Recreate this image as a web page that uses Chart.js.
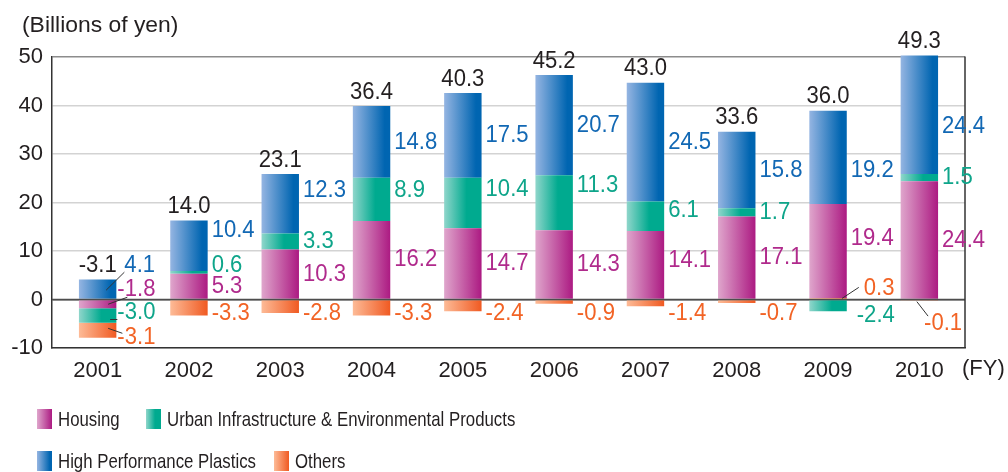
<!DOCTYPE html>
<html>
<head>
<meta charset="utf-8">
<title>Operating income by segment</title>
<script src="https://cdn.jsdelivr.net/npm/chart.js@4.4.1/dist/chart.umd.min.js"></script>
<style>
  html, body { margin: 0; padding: 0; background: #fff; }
  #wrap { width: 1008px; height: 472px; }
</style>
</head>
<body>
<div id="wrap"><canvas id="segmentChart" width="1008" height="472"></canvas></div>
<script>
const years = ['2001', '2002', '2003', '2004', '2005', '2006', '2007', '2008', '2009', '2010'];
const housing = [-1.8, 5.3, 10.3, 16.2, 14.7, 14.3, 14.1, 17.1, 19.4, 24.4];
const urbanInfra = [-3.0, 0.6, 3.3, 8.9, 10.4, 11.3, 6.1, 1.7, -2.4, 1.5];
const plastics = [4.1, 10.4, 12.3, 14.8, 17.5, 20.7, 24.5, 15.8, 19.2, 24.4];
const others = [-3.1, -3.3, -2.8, -3.3, -2.4, -0.9, -1.4, -0.7, 0.3, -0.1];
const totals = [-3.1, 14.0, 23.1, 36.4, 40.3, 45.2, 43.0, 33.6, 36.0, 49.3];
const yTicks = [-10, 0, 10, 20, 30, 40, 50];

const FONT = "'Liberation Sans', Arial, sans-serif";
const INK = '#231f20';
const BAR_PCT = 0.41;

const series = [
  { name: 'Housing', values: housing, light: '#dfa6cc', dark: '#ac1a82', stop: 1.0, text: '#b02a8c' },
  { name: 'Urban Infrastructure & Environmental Products', values: urbanInfra, light: '#90d6cb', dark: '#00aa8f', stop: 0.6, text: '#0ea58a' },
  { name: 'High Performance Plastics', values: plastics, light: '#95b5e2', dark: '#0065b1', stop: 0.85, text: '#1268b4' },
  { name: 'Others', values: others, light: '#fdbb97', dark: '#f05a22', stop: 1.0, text: '#f26325' }
];

// positives build up with Others at the bottom, negatives hang down with Others last
const upOrder = [3, 0, 1, 2];
const downOrder = [0, 1, 2, 3];

function buildRanges() {
  const ranges = series.map(() => []);
  years.forEach((_, i) => {
    let up = 0;
    upOrder.forEach(s => {
      const v = series[s].values[i];
      if (v >= 0) { ranges[s][i] = [up, up + v]; up += v; }
    });
    let down = 0;
    downOrder.forEach(s => {
      const v = series[s].values[i];
      if (v < 0) { ranges[s][i] = [down, down + v]; down += v; }
    });
  });
  return ranges;
}

function barFill(s) {
  return (c) => {
    const chart = c.chart;
    if (!chart.chartArea || c.type !== 'data') return s.dark;
    const xs = chart.scales.x;
    const cx = xs.getPixelForValue(c.dataIndex);
    const w = xs.width / years.length * BAR_PCT;
    const g = chart.ctx.createLinearGradient(cx - w / 2, 0, cx + w / 2, 0);
    g.addColorStop(0, s.light);
    g.addColorStop(s.stop, s.dark);
    g.addColorStop(1, s.dark);
    return g;
  };
}

// text drawn slightly condensed, like the narrow face used in print
function squeezed(ctx, text, x, y, sx, align) {
  ctx.save();
  ctx.translate(x, y);
  ctx.scale(sx, 1);
  ctx.textAlign = align;
  ctx.fillText(text, 0, 0);
  ctx.restore();
}

// label shifts (px) from the default spot right of each segment; lead = leader line
const labelNudges = {
  '2:0': { dx: 4, dy: -24, lead: [8.5, 1, 0, 7] },
  '0:0': { dx: -3, dy: -15, lead: [10.5, 0, 10, 8] },
  '1:0': { dx: -3, dy: -3, lead: [12.5, 4, 0, 7] },
  '3:0': { dx: -3, dy: 7, lead: [10.5, -2, 5, -4] },
  '1:1': { dy: -7 },
  '2:1': { dy: -15 },
  '2:2': { dy: -13 },
  '1:3': { dy: -9 },
  '1:4': { dy: -14 },
  '1:5': { dy: -17 },
  '1:6': { dy: -6 },
  '0:6': { dy: -5 },
  '0:8': { dy: -13 },
  '1:8': { dx: 6, dy: 10 },
  '2:8': { dy: 13 },
  '3:8': { dx: 13, dy: -10, lead: [14, 0, -5, -1] },
  '2:9': { dy: 12 },
  '3:9': { dx: -18, dy: 23, lead: [-2.5, 1.5, 4, -7] }
};

const legendSlots = [
  { x: 37, y: 409 }, { x: 146, y: 409 },
  { x: 37, y: 451 }, { x: 274, y: 451 }
];

const annotate = {
  id: 'annotate',
  afterDatasetsDraw(chart) {
    const { ctx, chartArea: area, scales: { y } } = chart;
    const zeroY = y.getPixelForValue(0);
    ctx.save();

    // zero line sits over the bars; right edge closes the frame
    ctx.lineWidth = 1.5;
    ctx.strokeStyle = '#4d4d4d';
    ctx.beginPath(); ctx.moveTo(area.left, zeroY); ctx.lineTo(area.right, zeroY); ctx.stroke();
    ctx.strokeStyle = '#333';
    ctx.beginPath(); ctx.moveTo(area.right, area.top - 0.5); ctx.lineTo(area.right, area.bottom); ctx.stroke();

    ctx.font = `24px ${FONT}`;
    ctx.textBaseline = 'middle';
    const tops = years.map(() => Infinity);
    const centers = [];

    series.forEach((s, si) => {
      chart.getDatasetMeta(si).data.forEach((bar, i) => {
        const { x, y: end, base, width } = bar.getProps(['x', 'y', 'base', 'width'], true);
        tops[i] = Math.min(tops[i], end, base);
        centers[i] = x;
        const mid = (end + base) / 2;
        const value = s.values[i];
        const nudge = labelNudges[`${si}:${i}`];
        let lx = x + width / 2 + 4;
        let ly = mid;
        if (nudge) {
          lx += nudge.dx || 0;
          ly += nudge.dy || 0;
        } else if (si === 3 && value < 0) {
          ly = Math.max(mid, zeroY + 14);
        }
        if (nudge && nudge.lead) {
          const [ax, ay, bx, by] = nudge.lead;
          ctx.strokeStyle = '#333';
          ctx.lineWidth = 1;
          ctx.beginPath();
          ctx.moveTo(x + ax, mid + ay);
          ctx.lineTo(lx + bx, ly + by);
          ctx.stroke();
        }
        ctx.fillStyle = s.text;
        squeezed(ctx, value.toFixed(1), lx, ly, 0.92, 'left');
      });
    });

    // segment totals above each column
    ctx.fillStyle = INK;
    totals.forEach((t, i) => squeezed(ctx, t.toFixed(1), centers[i], tops[i] - 14, 0.92, 'center'));

    // axis captions
    ctx.font = `22px ${FONT}`;
    ctx.textAlign = 'left';
    squeezed(ctx, '(Billions of yen)', 22, 26, 1.04, 'left');
    ctx.fillText('(FY)', 962, 369);

    // legend in two rows
    ctx.font = `21px ${FONT}`;
    series.forEach((s, si) => {
      const slot = legendSlots[si];
      const g = ctx.createLinearGradient(slot.x, 0, slot.x + 15, 0);
      g.addColorStop(0, s.light);
      g.addColorStop(s.stop, s.dark);
      g.addColorStop(1, s.dark);
      ctx.fillStyle = g;
      ctx.fillRect(slot.x, slot.y, 15, 20);
      ctx.fillStyle = INK;
      squeezed(ctx, s.name, slot.x + 21, slot.y + 11, 0.8, 'left');
    });
    ctx.restore();
  }
};

const ranges = buildRanges();

new Chart(document.getElementById('segmentChart'), {
  type: 'bar',
  data: {
    labels: years,
    datasets: series.map((s, si) => ({
      label: s.name,
      data: ranges[si],
      backgroundColor: barFill(s),
      borderWidth: 0,
      barPercentage: BAR_PCT,
      categoryPercentage: 1,
      clip: false
    }))
  },
  options: {
    responsive: false,
    animation: false,
    layout: { padding: { top: 57, right: 43, bottom: 84, left: 0 } },
    plugins: {
      legend: { display: false },
      tooltip: { enabled: false }
    },
    scales: {
      x: {
        stacked: true,
        grid: { display: false, drawTicks: false },
        border: { display: true, color: '#333', width: 1.5 },
        ticks: { color: INK, font: { family: FONT, size: 22 }, padding: 10 },
        afterFit: (scale) => { scale.height = 40; }
      },
      y: {
        stacked: false,
        min: yTicks[0],
        max: yTicks[yTicks.length - 1],
        afterBuildTicks: (scale) => { scale.ticks = yTicks.map(v => ({ value: v })); },
        grid: {
          drawTicks: false,
          lineWidth: 1.5,
          color: (c) => c.tick.value === 0 ? '#4d4d4d' : c.tick.value === 50 ? '#8c8c8c' : '#d3d3d3'
        },
        border: { display: true, color: '#333', width: 1.5 },
        ticks: { color: INK, font: { family: FONT, size: 22 }, padding: 9 },
        afterFit: (scale) => { scale.width = 52; }
      }
    }
  },
  plugins: [annotate]
});
</script>
</body>
</html>
